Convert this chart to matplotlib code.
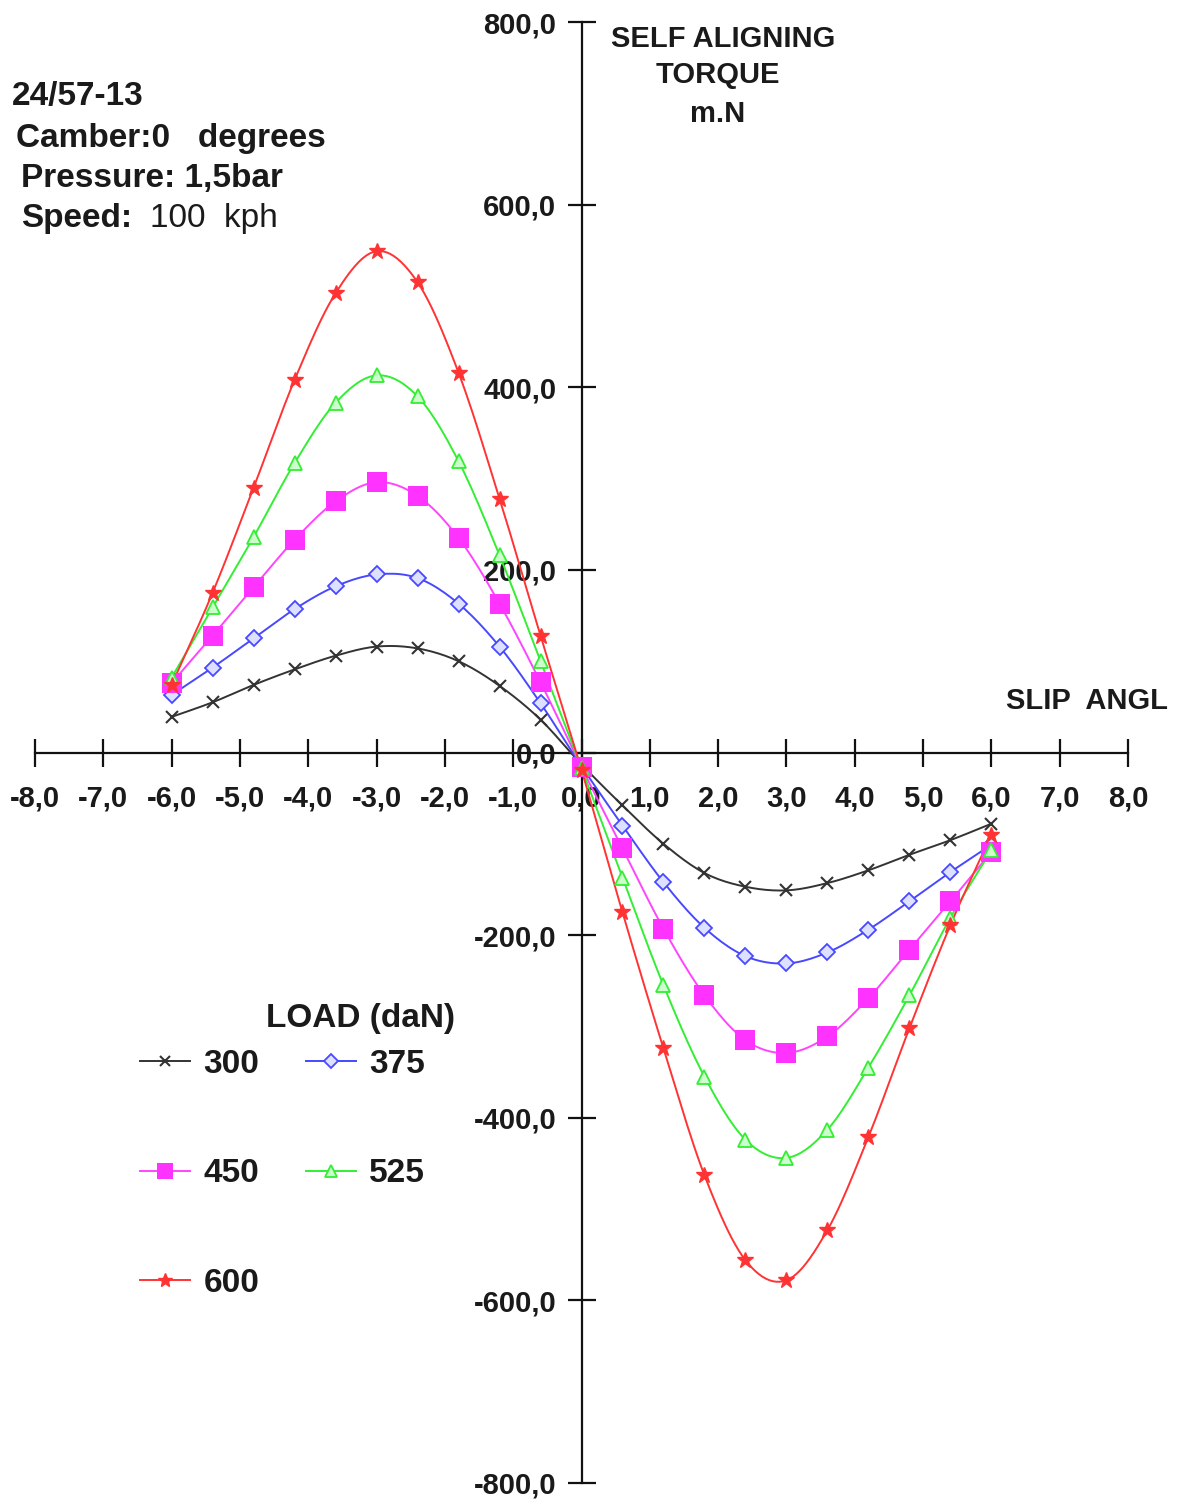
import numpy as np
import matplotlib
matplotlib.use("Agg")
import matplotlib.pyplot as plt

plt.rcParams['font.family'] = ['Liberation Sans', 'DejaVu Sans']

# slip angle (deg)
slip = [-6.0, -5.4, -4.8, -4.2, -3.6, -3.0, -2.4, -1.8, -1.2, -0.6, 0.0,
        0.6, 1.2, 1.8, 2.4, 3.0, 3.6, 4.2, 4.8, 5.4, 6.0]

# self aligning torque (m.N) per load (daN)
sat_300 = [39, 55, 74, 91, 106, 116, 114, 100, 73, 36, -13,
           -58, -100, -132, -147, -151, -143, -129, -112, -96, -78]
sat_375 = [63, 93, 125, 157, 182, 195, 191, 163, 116, 54, -15,
           -80, -142, -192, -223, -231, -219, -194, -163, -131, -101]
sat_450 = [76, 128, 181, 233, 275, 296, 281, 235, 163, 77, -16,
           -105, -193, -266, -315, -329, -311, -269, -216, -163, -109]
sat_525 = [82, 159, 236, 317, 383, 413, 390, 319, 216, 100, -17,
           -137, -255, -355, -424, -444, -413, -345, -266, -181, -107]
sat_600 = [74, 175, 290, 408, 503, 549, 515, 416, 278, 128, -19,
           -175, -324, -463, -556, -578, -523, -421, -302, -189, -90]

loads = ['300', '375', '450', '525', '600']

W, H = 1185, 1502
fig = plt.figure(figsize=(W / 100, H / 100), dpi=100)
ax = fig.add_axes([35 / W, 1 - 1483 / H, 1093 / W, 1461 / H])


def fx(x):
    return x / W


def fy(y):
    return 1 - y / H


def smooth(x, y, n=12):
    # Catmull-Rom curve through the points, like a "smoothed line" chart
    x = np.asarray(x, float)
    y = np.asarray(y, float)
    px = np.concatenate([[2 * x[0] - x[1]], x, [2 * x[-1] - x[-2]]])
    py = np.concatenate([[2 * y[0] - y[1]], y, [2 * y[-1] - y[-2]]])
    t = np.linspace(0, 1, n, endpoint=False)
    xs, ys = [], []
    for i in range(1, len(px) - 2):
        for arr, out in ((px, xs), (py, ys)):
            p0, p1, p2, p3 = arr[i - 1], arr[i], arr[i + 1], arr[i + 2]
            out.extend(0.5 * (2 * p1 + (-p0 + p2) * t
                              + (2 * p0 - 5 * p1 + 4 * p2 - p3) * t ** 2
                              + (-p0 + 3 * p1 - 3 * p2 + p3) * t ** 3))
    xs.append(x[-1])
    ys.append(y[-1])
    return xs, ys


styles = {
    '300': dict(color='#333333', marker='x', ms=9, mfc='none', mew=1.5),
    '375': dict(color='#4848ff', marker='D', ms=8, mfc='#dde0ff', mew=1.3),
    '450': dict(color='#ff44ff', marker='s', ms=14, mfc='#ff33ff', mew=0),
    '525': dict(color='#33ee33', marker='^', ms=10, mfc='#ccffcc', mew=1.3),
    '600': dict(color='#ff3333', marker='*', ms=12, mfc='#ff3333', mew=1),
}
series = {'300': sat_300, '375': sat_375, '450': sat_450,
          '525': sat_525, '600': sat_600}

handles = {}
for load in loads:
    st = styles[load]
    sx, sy = smooth(slip, series[load])
    ax.plot(sx, sy, color=st['color'], lw=1.4, zorder=3)
    ax.plot(slip, series[load], ls='none', marker=st['marker'], ms=st['ms'],
            mfc=st['mfc'], mec=st['color'], mew=st['mew'], zorder=4)
    h, = ax.plot([], [], color=st['color'], lw=1.4, marker=st['marker'],
                 ms=st['ms'] * 0.85, mfc=st['mfc'], mec=st['color'], mew=st['mew'])
    handles[load] = h

ax.set_xlim(-8, 8)
ax.set_ylim(-800, 800)
for side in ('top', 'right'):
    ax.spines[side].set_visible(False)
ax.spines['left'].set_position(('data', 0))
ax.spines['bottom'].set_position(('data', 0))
for side in ('left', 'bottom'):
    ax.spines[side].set_linewidth(1.6)
    ax.spines[side].set_color('#111111')
    ax.spines[side].set_zorder(2)

xt = np.arange(-8, 9, 1)
yt = np.arange(-800, 801, 200)
ax.set_xticks(xt)
ax.set_xticklabels([f"{v:.1f}".replace('.', ',') for v in xt])
ax.set_yticks(yt)
ax.set_yticklabels([f"{v:.1f}".replace('.', ',') for v in yt])
ax.tick_params(axis='both', direction='inout', length=20, width=1.6,
               color='#111111', labelsize=21, labelcolor='#1a1a1a')
ax.tick_params(axis='x', pad=13)
ax.tick_params(axis='y', pad=8)
for lab in ax.get_xticklabels() + ax.get_yticklabels():
    lab.set_fontweight('bold')
ax.patch.set_alpha(0)

# headings
bold = dict(fontweight='bold', color='#1a1a1a')
fig.text(fx(12), fy(96), "24/57-13", va='center', ha='left', fontsize=24, **bold)
fig.text(fx(16), fy(138), "Camber:0   degrees", va='center', ha='left',
         fontsize=24, **bold)
fig.text(fx(21), fy(179), "Pressure: 1,5bar", va='center', ha='left',
         fontsize=24, **bold)
fig.text(fx(21), fy(219), "Speed:", va='center', ha='left', fontsize=24, **bold)
fig.text(fx(150), fy(219), "100  kph", va='center', ha='left',
         fontsize=24, color='#1a1a1a')
fig.text(fx(723), fy(39), "SELF ALIGNING", va='center', ha='center',
         fontsize=21, **bold)
fig.text(fx(718), fy(75), "TORQUE", va='center', ha='center', fontsize=21, **bold)
fig.text(fx(718), fy(114), "m.N", va='center', ha='center', fontsize=21, **bold)
fig.text(fx(1168), fy(701), "SLIP  ANGL", va='center', ha='right',
         fontsize=21, **bold)
fig.text(fx(455), fy(1018), "LOAD (daN)", va='center', ha='right',
         fontsize=24, **bold)

order = ['300', '450', '600', '375', '525']
leg = fig.legend([handles[k] for k in order], order, ncol=2,
                 loc='upper left', bbox_to_anchor=(fx(140), fy(1049)),
                 frameon=False, fontsize=24, labelspacing=2.35,
                 handlelength=1.5, handletextpad=0.4, columnspacing=1.4,
                 borderaxespad=0, borderpad=0)
for t in leg.get_texts():
    t.set_fontweight('bold')
    t.set_color('#1a1a1a')

fig.savefig("out.png", dpi=100)
